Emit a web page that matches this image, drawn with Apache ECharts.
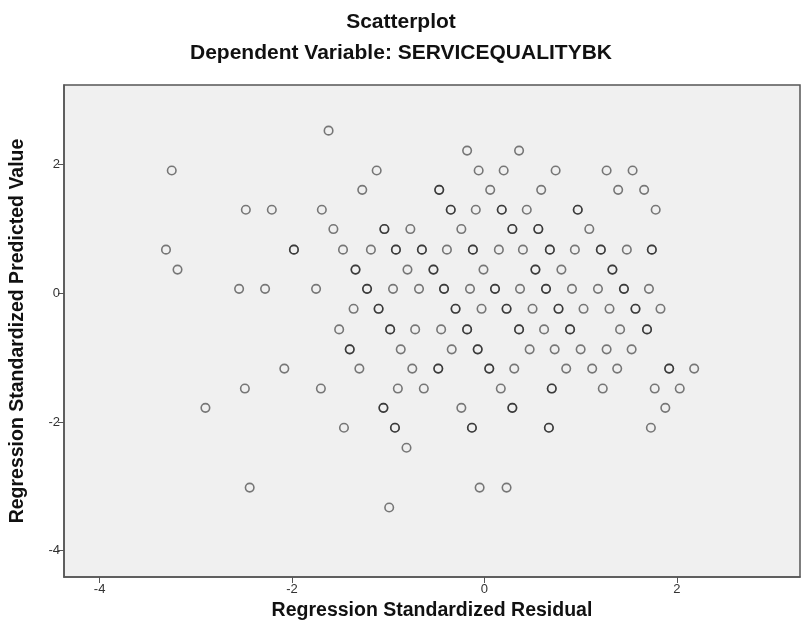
<!DOCTYPE html>
<html>
<head>
<meta charset="utf-8">
<script src="https://cdn.jsdelivr.net/npm/echarts@6/dist/echarts.min.js"></script>
<style>
html,body{margin:0;padding:0;background:#fff;}
#c{width:802px;height:637px;}
</style>
</head>
<body>
<div id="c"></div>
<script>
// Predicted-value levels (y) and the standardized residuals (x) observed at each level.
// Points that appear darker (overlapping cases) are listed twice.
const predictedLevels = [2.53, 2.22, 1.91, 1.61, 1.30, 1.00, 0.68, 0.37, 0.07, -0.24, -0.56, -0.87, -1.17, -1.48, -1.78, -2.09, -2.40, -3.02, -3.33];
const residualsByLevel = [
  [-1.62],
  [-0.18, 0.36],
  [-3.25, -1.12, -0.06, 0.20, 0.74, 1.27, 1.54],
  [-1.27, -0.47, -0.47, 0.06, 0.59, 1.39, 1.66],
  [-2.48, -2.21, -1.69, -0.35, -0.35, -0.09, 0.18, 0.18, 0.44, 0.97, 0.97, 1.78],
  [-1.57, -1.04, -1.04, -0.77, -0.24, 0.29, 0.29, 0.56, 0.56, 1.09],
  [-3.31, -1.98, -1.98, -1.47, -1.18, -0.92, -0.92, -0.65, -0.65, -0.39, -0.12, -0.12, 0.15, 0.40, 0.68, 0.68, 0.94, 1.21, 1.21, 1.48, 1.74, 1.74],
  [-3.19, -1.34, -1.34, -0.80, -0.53, -0.53, -0.01, 0.53, 0.53, 0.80, 1.33, 1.33],
  [-2.55, -2.28, -1.75, -1.22, -1.22, -0.95, -0.68, -0.42, -0.42, -0.15, 0.11, 0.11, 0.37, 0.64, 0.64, 0.91, 1.18, 1.45, 1.45, 1.71],
  [-1.36, -1.10, -1.10, -0.30, -0.30, -0.03, 0.23, 0.23, 0.50, 0.77, 0.77, 1.03, 1.30, 1.57, 1.57, 1.83],
  [-1.51, -0.98, -0.98, -0.72, -0.45, -0.18, -0.18, 0.36, 0.36, 0.62, 0.89, 0.89, 1.41, 1.69, 1.69],
  [-1.40, -1.40, -0.87, -0.34, -0.07, -0.07, 0.47, 0.73, 1.00, 1.27, 1.53],
  [-2.08, -1.30, -0.75, -0.48, -0.48, 0.05, 0.05, 0.31, 0.85, 1.12, 1.38, 1.92, 1.92, 2.18],
  [-2.49, -1.70, -0.90, -0.63, 0.17, 0.70, 0.70, 1.23, 1.77, 2.03],
  [-2.90, -1.05, -1.05, -0.24, 0.29, 0.29, 1.88],
  [-1.46, -0.93, -0.93, -0.13, -0.13, 0.67, 0.67, 1.73],
  [-0.81],
  [-2.44, -0.05, 0.23],
  [-0.99]
];
const xTicks = [-4, -2, 0, 2];
const yTicks = [-4, -2, 0, 2];
const titleText = 'Scatterplot';
const subtitleText = 'Dependent Variable: SERVICEQUALITYBK';
const xTitle = 'Regression Standardized Residual';
const yTitle = 'Regression Standardized Predicted Value';

const points = [];
predictedLevels.forEach((y, i) => {
  residualsByLevel[i].forEach(x => points.push([x, y]));
});

const FONT = 'Liberation Sans, Arial, sans-serif';
const chart = echarts.init(document.getElementById('c'), null, {renderer: 'canvas'});
chart.setOption({
  animation: false,
  backgroundColor: '#ffffff',
  title: [
    {text: titleText, left: 'center', top: 7,
     textStyle: {fontFamily: FONT, fontSize: 21, fontWeight: 'bold', color: '#111'}},
    {text: subtitleText, left: 'center', top: 38,
     textStyle: {fontFamily: FONT, fontSize: 21, fontWeight: 'bold', color: '#111'}}
  ],
  grid: {
    left: 64, right: 2, top: 85, bottom: 60,
    show: true, backgroundColor: '#F0F0F0', borderColor: '#555', borderWidth: 1.5
  },
  xAxis: {
    type: 'value', min: -4.37, max: 3.28,
    name: xTitle, nameLocation: 'middle', nameGap: 19,
    nameTextStyle: {fontFamily: FONT, fontSize: 19.5, fontWeight: 'bold', color: '#111'},
    splitLine: {show: false},
    axisLine: {show: true, onZero: false, lineStyle: {color: '#555', width: 1.5}},
    axisTick: {show: true, length: 6, customValues: xTicks, lineStyle: {color: '#555'}},
    axisLabel: {customValues: xTicks, fontFamily: FONT, fontSize: 13, color: '#333', margin: 6}
  },
  yAxis: {
    type: 'value', min: -4.41, max: 3.24,
    name: yTitle, nameLocation: 'middle', nameGap: 36, nameRotate: 90,
    nameTextStyle: {fontFamily: FONT, fontSize: 19.5, fontWeight: 'bold', color: '#111'},
    splitLine: {show: false},
    axisLine: {show: true, onZero: false, lineStyle: {color: '#555', width: 1.5}},
    axisTick: {show: true, length: 6, customValues: yTicks, lineStyle: {color: '#555'}},
    axisLabel: {customValues: yTicks, fontFamily: FONT, fontSize: 13, color: '#333', margin: 4}
  },
  series: [{
    type: 'scatter',
    data: points,
    symbol: 'circle',
    symbolSize: 8.5,
    itemStyle: {color: 'rgba(0,0,0,0)', borderColor: 'rgba(0,0,0,0.64)', borderWidth: 1.6},
    emphasis: {disabled: true}
  }]
});
</script>
</body>
</html>
